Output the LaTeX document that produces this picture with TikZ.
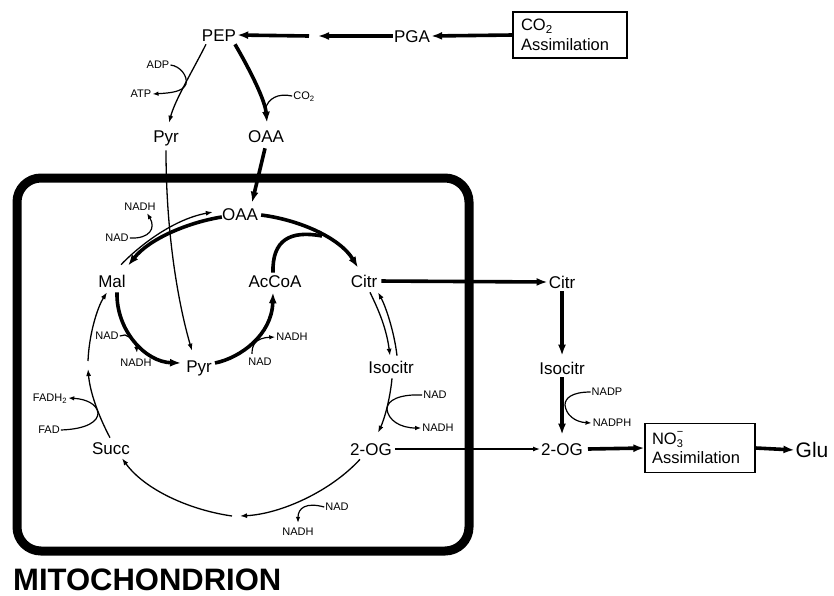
\documentclass[tikz,border=0pt]{standalone}
\usepackage{fontspec}
\setmainfont{Liberation Sans}
\usetikzlibrary{arrows.meta,calc}
\begin{document}
\begin{tikzpicture}[x=1pt,y=-1pt,
  lbl/.style={font=\fontsize{17}{17}\selectfont, inner sep=1pt, text height=12.2pt, text depth=0pt},
  sm/.style={font=\fontsize{11}{11}\selectfont, inner sep=1pt, text height=7.9pt, text depth=0pt},
  thk/.style={line width=3.6pt, -{Latex[length=11pt,width=8pt]}},
  thkn/.style={line width=3.6pt},
  thn/.style={line width=1.3pt, -{Latex[length=7pt,width=5pt]}},
  side/.style={line width=1.2pt, -{Latex[length=6pt,width=4.5pt]}},
  sidel/.style={line width=1.2pt},
  boxn/.style={draw, line width=1.2pt, font=\fontsize{16.5}{19.5}\selectfont, align=left, inner xsep=0pt, inner ysep=0pt, text width=98pt}
]
\useasboundingbox (0,0) rectangle (834,595);

% membrane
\draw[line width=9pt, rounded corners=24pt] (17,178) rectangle (469,551);
\node[anchor=base west, inner sep=0pt, font=\fontsize{31}{31}\selectfont\bfseries] (mito) at (13,590) {MITOCHONDRION};

% top nodes
\node[lbl] (PEP) at (219,35) {PEP};
\node[lbl] (PGA) at (412,36) {PGA};
\node[boxn, minimum width=114pt, minimum height=46pt] (CO2box) at (570,35) {CO\textsubscript{2}\\Assimilation};
\node[lbl] (PyrO) at (166,136) {Pyr};
\node[lbl] (OAAo) at (266,136) {OAA};
\node[sm] (ADP) at (158,65) {ADP};
\node[sm] (ATP) at (141,94) {ATP};
\node[sm] (CO2s) at (304,96) {CO\textsubscript{2}};

% inner nodes
\node[lbl] (OAAi) at (240,214) {OAA};
\node[lbl] (Mal) at (112,281) {Mal};
\node[lbl] (AcCoA) at (275,281) {AcCoA};
\node[lbl] (CitrI) at (364,281) {Citr};
\node[lbl] (PyrI) at (199,366) {Pyr};
\node[lbl] (IsoI) at (391,367) {Isocitr};
\node[lbl] (OGI) at (371,449) {2-OG};
\node[lbl] (Succ) at (111,448) {Succ};

\node[sm] (NAD1) at (117,238) {NAD};
\node[sm] (NADH1) at (140,207) {NADH};
\node[sm] (NAD2) at (107,336) {NAD};
\node[sm] (NADH2) at (136,363) {NADH};
\node[sm] (NAD3) at (260,362) {NAD};
\node[sm] (NADH3) at (292,337) {NADH};
\node[sm] (NAD4) at (435,395) {NAD};
\node[sm] (NADH4) at (438,428) {NADH};
\node[sm] (NAD5) at (337,507) {NAD};
\node[sm] (NADH5) at (298,532) {NADH};
\node[sm] (FAD) at (49,430) {FAD};
\node[sm] (FADH2) at (50,398) {FADH\textsubscript{2}};

% outer right nodes
\node[lbl] (CitrO) at (562,282) {Citr};
\node[lbl] (IsoO) at (562,368) {Isocitr};
\node[lbl] (OGO) at (562,449) {2-OG};
\node[sm] (NADP) at (607,392) {NADP};
\node[sm] (NADPH) at (612,423) {NADPH};
\node[boxn, minimum width=110pt, minimum height=49pt, text width=96pt] (NO3box) at (700,448) {NO\rlap{\raisebox{-3.5pt}{\fontsize{11}{11}\selectfont 3}}\raisebox{8.5pt}{\fontsize{11}{11}\selectfont −}\\Assimilation};
\node[lbl, font=\fontsize{21}{21}\selectfont, text height=15pt] (Glu) at (812,450) {Glu};

% coordinates for broken arrows
\coordinate (m1) at (318,36);
\coordinate (m2) at (309,36);
\coordinate (c1) at (88,369);
\coordinate (c2) at (88,361);
\coordinate (c3) at (240,516);
\coordinate (c4) at (232,516);
\coordinate (j1) at (322,236);

% top connectors
\draw[thk] (CO2box.west) -- (PGA.east);
\draw[thk] (PGA.west) -- (m1);
\draw[thk] (m2) -- (PEP.east);

\draw[thn] ($(PEP.south)+(-13,2)$) .. controls (192,72) and (175,100) .. ($(PyrO.north)+(3,-6)$);
\draw[side] (ADP.east) .. controls (180,66) and (188,76) .. (186,84) .. controls (183,92) and (170,93) .. (ATP.east);

\draw[thk] ($(PEP.south)+(16,2)$) .. controls (250,70) and (265,100) .. ($(OAAo.north)+(1,-6)$);
\draw[sidel] (CO2s.west) .. controls (278,93) and (268,98) .. (265,110);

\draw[thk] ($(OAAo.south)+(-1,5)$) -- ($(OAAi.north)+(12,-4)$);
\draw[thn] ($(PyrO.south)+(0,7)$) .. controls (166,240) and (180,310) .. ($(PyrI.north)+(-7,-8)$);

% OAA <-> Mal
\draw[thn] ($(Mal.north)+(9,-9)$) .. controls (135,250) and (170,220) .. ($(OAAi.west)+(-8,-2)$);
\draw[thk] ($(OAAi.west)+(1,3)$) .. controls (190,222) and (150,238) .. ($(Mal.north)+(16,-8)$);
\draw[side] (NAD1.east) .. controls (150,239) and (156,228) .. ($(NADH1.south)+(7,1)$);

% OAA -> Citr, AcCoA joins
\draw[thk] ($(OAAi.east)+(2,1)$) .. controls (300,220) and (340,238) .. ($(CitrI.north)+(-6,-6)$);
\draw[thkn] ($(AcCoA.north)+(-2,-1)$) .. controls (272,240) and (290,230) .. (j1);

% Mal -> Pyr
\draw[thk] ($(Mal.south)+(5,4)$) .. controls (116,330) and (145,362) .. ($(PyrI.west)+(-4,-3)$);
\draw[side] (NAD2.east) -- (125,335) .. controls (131,337) and (136,343) .. ($(NADH2.north)+(1,-5)$);

% Pyr -> AcCoA
\draw[thk] ($(PyrI.east)+(2,-3)$) .. controls (240,358) and (272,335) .. ($(AcCoA.south)+(-2,4)$);
\draw[side] ($(NAD3.north)+(-8,-3)$) .. controls (252,345) and (255,338) .. (NADH3.west);

% Citr <-> Isocitr
\draw[thn] ($(CitrI.south)+(6,4)$) .. controls (376,305) and (386,325) .. ($(IsoI.north)+(-1,-4)$);
\draw[thn] ($(IsoI.north)+(6,-4)$) .. controls (394,330) and (385,305) .. ($(CitrI.south)+(14,4)$);

% Isocitr -> 2-OG
\draw[thn] ($(IsoI.south)+(1,4)$) .. controls (390,400) and (384,420) .. ($(OGI.north)+(7,-9)$);
\draw[side] (NAD4.west) .. controls (400,394) and (387,400) .. (387,409) .. controls (388,420) and (400,428) .. (NADH4.west);

% 2-OG -> Succ (broken)
\draw[thn] ($(OGI.south)+(-11,3)$) .. controls (330,492) and (280,514) .. (c3);
\draw[side] (NAD5.west) .. controls (306,502) and (298,508) .. ($(NADH5.north)+(0,-4)$);
\draw[thn] (c4) .. controls (190,510) and (145,490) .. ($(Succ.south)+(11,3)$);

% Succ -> Mal (broken)
\draw[thn] ($(Succ.north)+(-1,-3)$) .. controls (98,415) and (90,392) .. (c1);
\draw[side] (FAD.east) .. controls (88,429) and (98,421) .. (98,413) .. controls (97,404) and (86,399) .. (FADH2.east);
\draw[thn] (c2) .. controls (89,335) and (97,308) .. ($(Mal.south)+(-5,4)$);

% outer right
\draw[thk, shorten <=3pt] (CitrI.east) -- (CitrO.west);
\draw[thk] ($(CitrO.south)+(0,2)$) -- ($(IsoO.north)+(0,-5)$);
\draw[thk] ($(IsoO.south)+(0,2)$) -- ($(OGO.north)+(0,-7)$);
\draw[side] (NADP.west) .. controls (572,392) and (565,398) .. (565,405) .. controls (566,415) and (575,422) .. (NADPH.west);
\draw[thn, shorten <=2pt] (OGI.east) -- (OGO.west);
\draw[thk] ($(OGO.east)+(4,0)$) -- (NO3box.west);
\draw[thk] (NO3box.east) -- (Glu.west);
\end{tikzpicture}
\end{document}
